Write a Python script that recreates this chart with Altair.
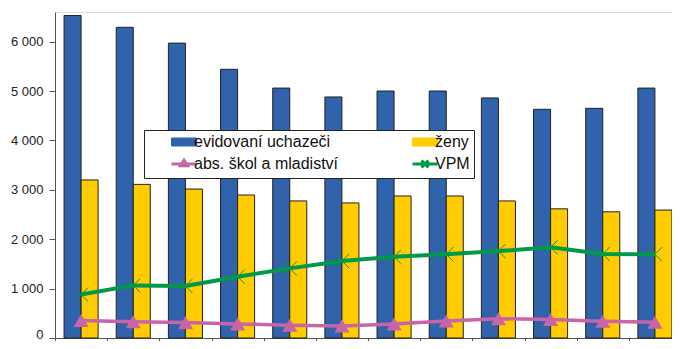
import altair as alt
import pandas as pd

# ---- data ----
categories = [str(i) for i in range(1, 13)]
evidovani = [6530, 6290, 5970, 5440, 5060, 4880, 5000, 5000, 4860, 4630, 4650, 5060]
zeny = [3200, 3110, 3015, 2895, 2775, 2735, 2875, 2875, 2775, 2615, 2555, 2590]
absolventi = [355, 330, 312, 285, 258, 245, 285, 345, 390, 375, 340, 320]
vpm = [880, 1065, 1052, 1241, 1410, 1560, 1645, 1695, 1760, 1835, 1700, 1695]

series_order = ["evidovaní uchazeči", "ženy", "abs. škol a mladiství", "VPM"]
colors = ["#3162AC", "#FFCC00", "#C864A8", "#00994A"]
y_ticks = [0, 1000, 2000, 3000, 4000, 5000, 6000]

bars_df = pd.DataFrame({
    "kategorie": categories * 2,
    "serie": [series_order[0]] * len(categories) + [series_order[1]] * len(categories),
    "hodnota": evidovani + zeny,
})
abs_df = pd.DataFrame({"kategorie": categories, "serie": series_order[2], "hodnota": absolventi})
vpm_df = pd.DataFrame({"kategorie": categories, "serie": series_order[3], "hodnota": vpm})
legend_df = pd.DataFrame({"serie": series_order})

FONT = "Liberation Sans"

# legend symbols (custom paths per entry, via the shape scale)
rect_path = "M-1,-0.32H1V0.32H-1Z"
tri_path = "M-1,0H1M-0.28,0.14L0,-0.3L0.28,0.14Z"
x_path = "M-1,0H1M-0.28,-0.28L0.28,0.28M-0.28,0.28L0.28,-0.28"
legend_shapes = [rect_path, rect_path, tri_path, x_path]

pad = "\u00a0" * 13
label_expr = f"datum.label + (datum.value == 'ženy' || datum.value == 'VPM' ? '{pad}' : '')"

legend = alt.Legend(
    title=None, orient="none", legendX=89, legendY=118, columns=2, direction="horizontal",
    fillColor="white", strokeColor="#222222", padding=4,
    symbolOffset=28, symbolSize=625, labelOffset=2,
    symbolStrokeWidth={"expr": "datum.index < 2 ? 1 : 3"},
    symbolOpacity=1,
    labelFont=FONT, labelFontSize=16, labelColor="#111111",
    rowPadding=4, columnPadding=50, labelExpr=label_expr,
)

color_enc = alt.Color("serie:N", scale=alt.Scale(domain=series_order, range=colors), legend=legend)
shape_enc = alt.Shape("serie:N", scale=alt.Scale(domain=series_order, range=legend_shapes), legend=legend)

x_scale = alt.Scale(domain=categories, paddingInner=0, paddingOuter=0)
y_scale = alt.Scale(domain=[0, 6600], nice=False)

x_bottom = alt.X("kategorie:N", sort=categories, scale=x_scale,
                 axis=alt.Axis(labels=False, title=None, tickBand="extent", tickSize=5,
                               domainColor="#555555", tickColor="#555555"))

y_main = alt.Y("hodnota:Q", scale=y_scale,
               axis=alt.Axis(values=y_ticks, title=None, grid=False, tickSize=6, labelPadding=6,
                             labelExpr="datum.value == 0 ? '0' : format(datum.value / 1000, 'd') + ' 000'",
                             labelFont=FONT, labelFontSize=13, labelColor="#222222",
                             labelFlush=True, labelFlushOffset=3,
                             domainColor="#555555", tickColor="#555555"))

bars = alt.Chart(bars_df).mark_bar(stroke="#222222", strokeWidth=1).encode(
    x=x_bottom, y=y_main,
    xOffset=alt.XOffset("serie:N", sort=series_order[:2],
                        scale=alt.Scale(domain=series_order[:2], paddingInner=0, paddingOuter=0.532)),
    color=color_enc,
)

abs_line = alt.Chart(abs_df).mark_line(strokeWidth=3.5).encode(x=x_bottom, y=y_main, color=color_enc)
abs_pts = alt.Chart(abs_df).mark_point(shape="triangle-up", filled=True, size=230, opacity=1,
                                       color=colors[2]).encode(x=x_bottom, y=y_main)
vpm_line = alt.Chart(vpm_df).mark_line(strokeWidth=4).encode(x=x_bottom, y=y_main, color=color_enc)
vpm_pts = alt.Chart(vpm_df).mark_point(shape="M-1,-1L1,1M-1,1L1,-1", filled=False, size=200,
                                       strokeWidth=1, opacity=1, color=colors[3]).encode(x=x_bottom, y=y_main)
legend_layer = alt.Chart(legend_df).transform_filter("false").mark_point(filled=True).encode(
    color=color_enc, shape=shape_enc)

chart = alt.layer(bars, abs_line, abs_pts, vpm_line, vpm_pts, legend_layer).properties(
    width=626, height=326,
    autosize=alt.AutoSizeParams(type="none"),
    padding={"left": 47, "top": 4, "right": -9, "bottom": 3},
).configure_view(stroke="#C0C0C0", strokeWidth=1.5).configure(font=FONT)

chart.save("out.html", embed_options={"renderer": "svg", "actions": False})
